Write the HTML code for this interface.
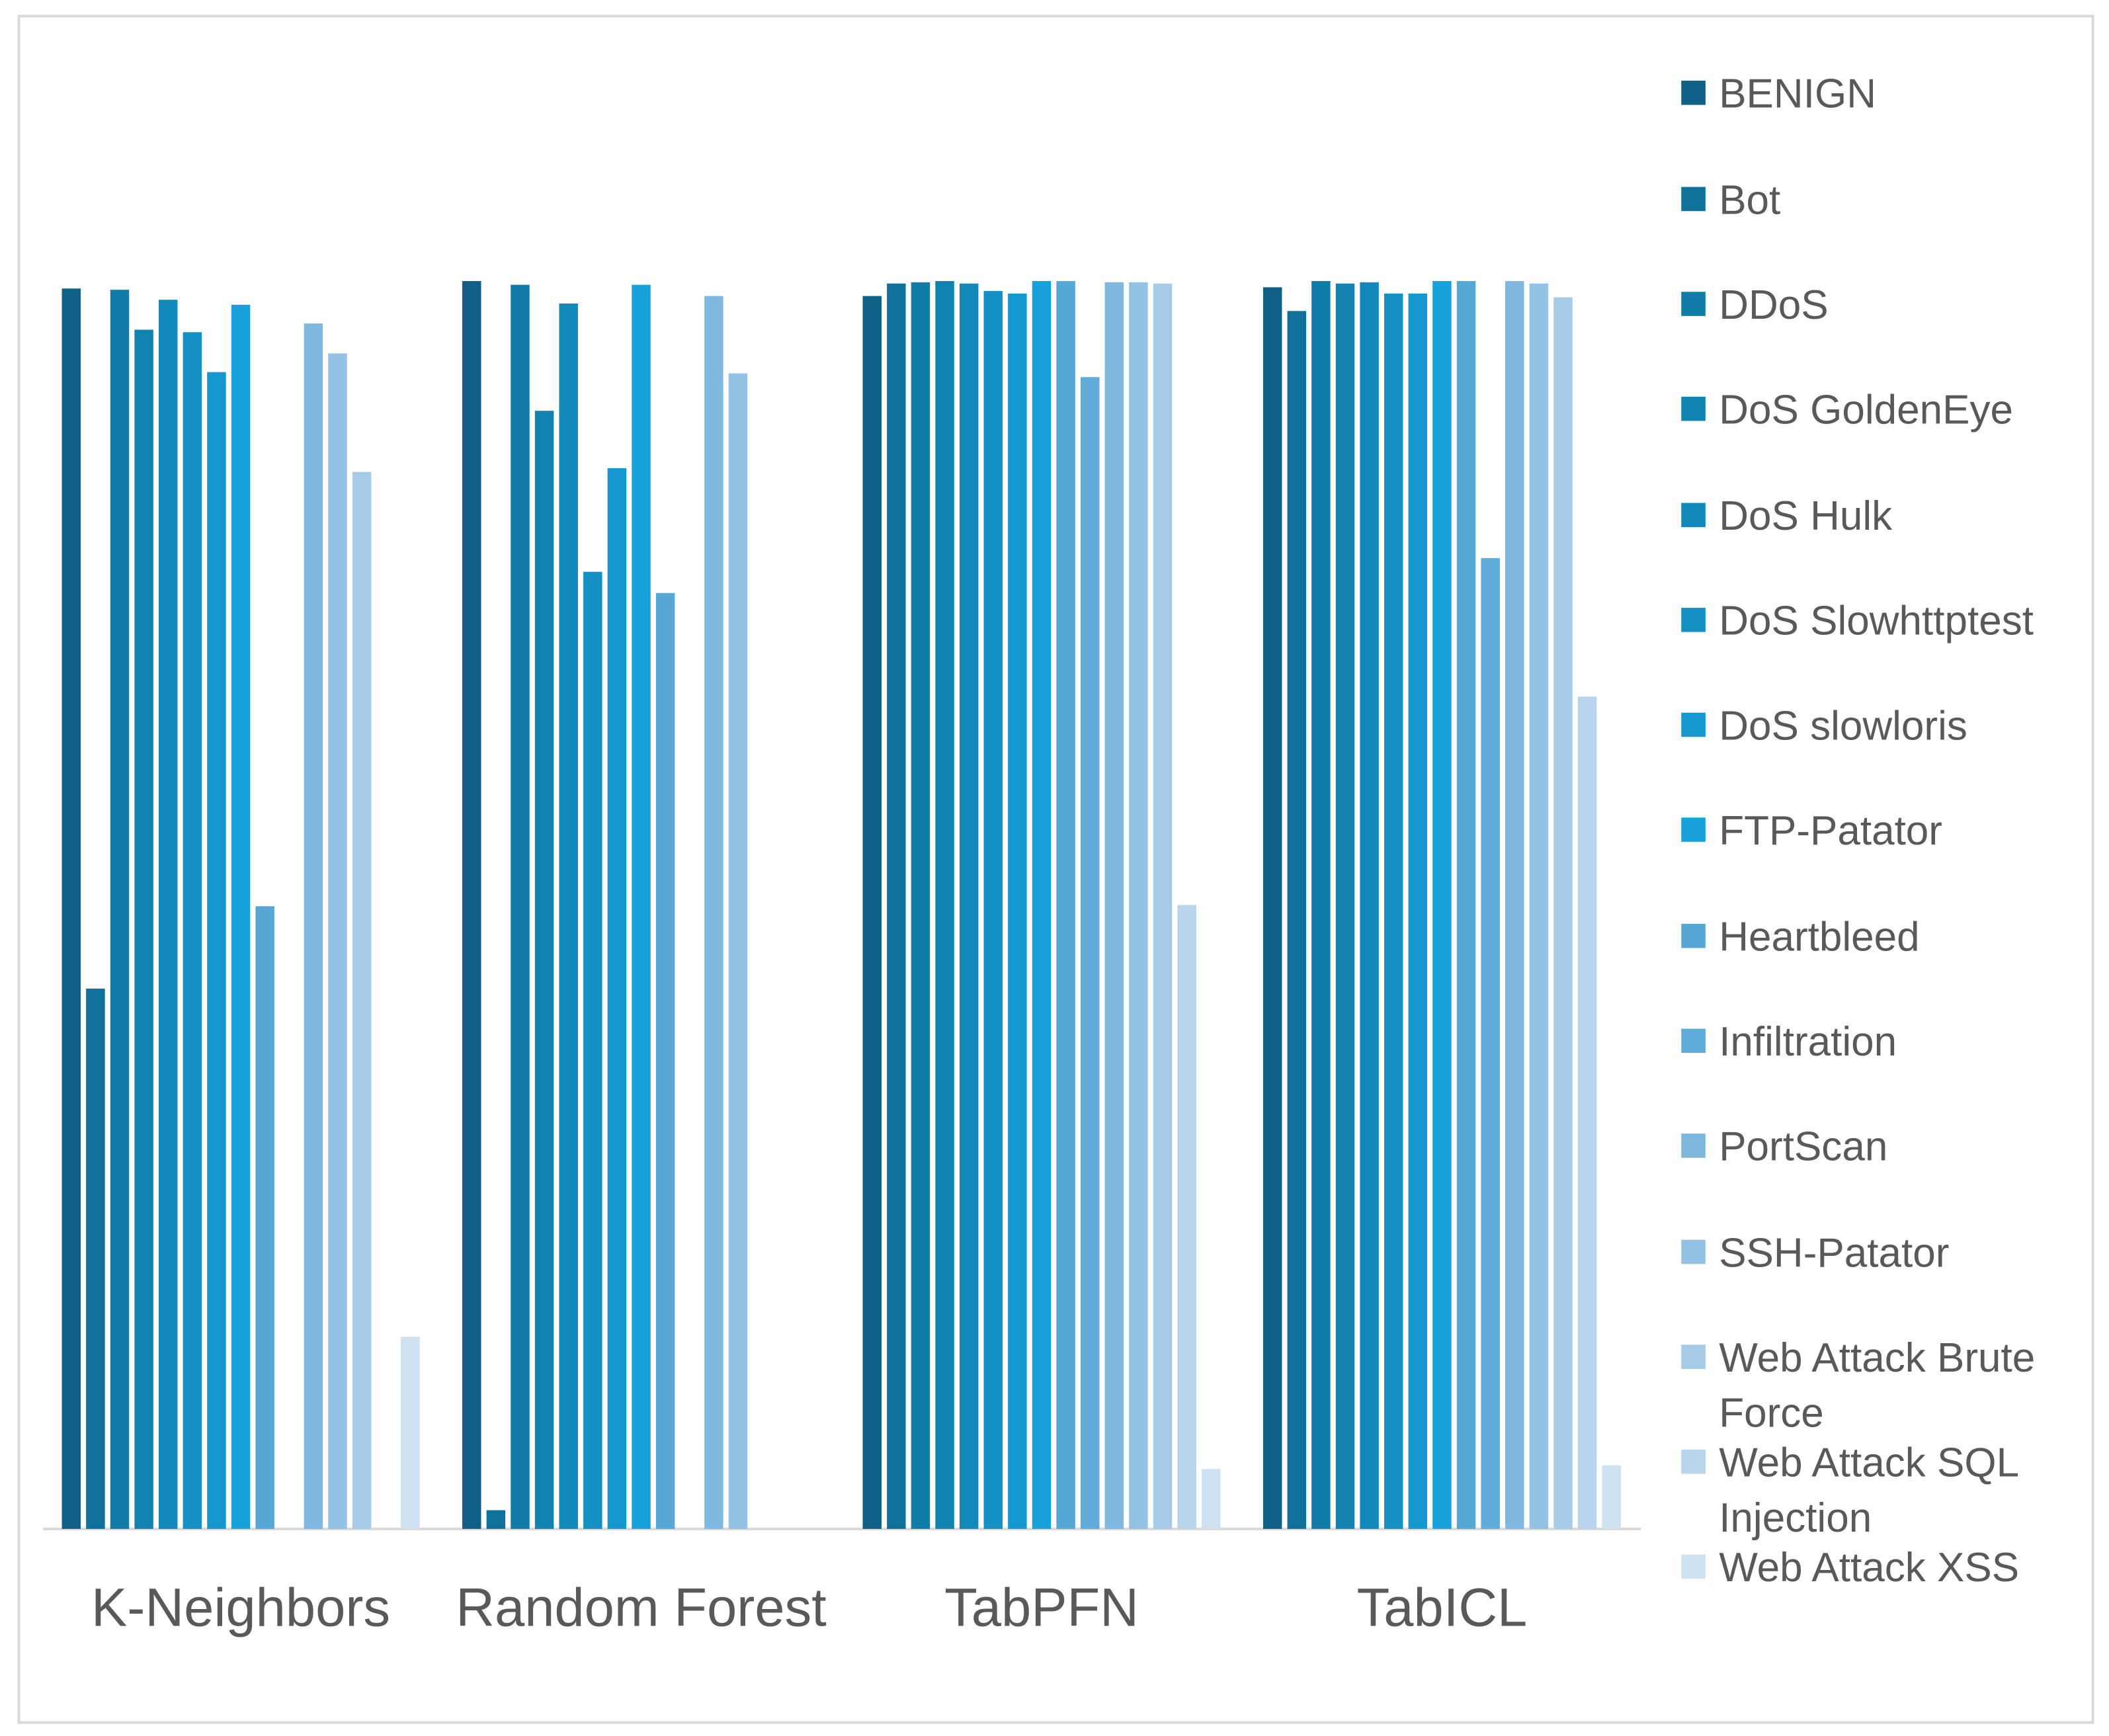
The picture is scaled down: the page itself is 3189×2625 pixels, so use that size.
<!DOCTYPE html>
<html><head><meta charset="utf-8"><style>
html,body{margin:0;padding:0;background:#fff}
svg{display:block}
text{font-family:"Liberation Sans",sans-serif;fill:#595959}
</style></head><body>
<svg id="chart" width="3189" height="2625" viewBox="0 0 1568 1291" preserveAspectRatio="none" xmlns="http://www.w3.org/2000/svg">
<rect x="14" y="12" width="1542" height="1269" fill="#fff" stroke="#d9d9d9" stroke-width="2"/>
<line x1="32" y1="1137" x2="1220" y2="1137" stroke="#d9d9d9" stroke-width="2"/>
<g id="bars"></g><g id="xlabels"></g><g id="legend"></g>
</svg>
<script>
const categories = ["K-Neighbors","Random Forest","TabPFN","TabICL"];
const seriesNames = ["BENIGN","Bot","DDoS","DoS GoldenEye","DoS Hulk","DoS Slowhttptest","DoS slowloris","FTP-Patator","Heartbleed","Infiltration","PortScan","SSH-Patator","Web Attack Brute Force","Web Attack SQL Injection","Web Attack XSS"];
const colors = ["#0f5f86","#10719b","#117ca8","#1282b0","#1389bb","#1490c4","#1597cf","#18a0da","#56a7d6","#5fabd9","#7fb8df","#94c2e4","#a6cbe8","#b8d5ec","#cde1f1"];
const knnValues = [0.994,0.433,0.993,0.961,0.985,0.959,0.927,0.981,0.499,0,0.966,0.942,0.847,0,0.154];
const rfValues  = [1.000,0.015,0.997,0.896,0.982,0.767,0.850,0.997,0.750,0,0.988,0.926,0,0,0];
const tabpfnValues = [0.988,0.998,0.999,1.000,0.998,0.992,0.990,1.000,1.000,0.923,0.999,0.999,0.998,0.500,0.048];
const tabiclValues = [0.995,0.976,1.000,0.998,0.999,0.990,0.990,1.000,1.000,0.778,1.000,0.998,0.987,0.667,0.051];
const allValues=[knnValues,rfValues,tabpfnValues,tabiclValues];
const NS="http://www.w3.org/2000/svg";
const baseY=1137, plotH=928, firstX=46, groupW=297.7, pitch=18, barW=14;
const yScale=v=>baseY-v*plotH;
const xScale=(g,s)=>firstX+g*groupW+s*pitch;
const bars=document.getElementById('bars');
allValues.forEach((vals,g)=>{vals.forEach((v,s)=>{if(v<=0)return;
 const r=document.createElementNS(NS,'rect');
 r.setAttribute('x',xScale(g,s));r.setAttribute('y',yScale(v));
 r.setAttribute('width',barW);r.setAttribute('height',baseY-yScale(v));
 r.setAttribute('fill',colors[s]);
 
 
 bars.appendChild(r);});});
const xl=document.getElementById('xlabels');
categories.forEach((c,g)=>{const t=document.createElementNS(NS,'text');
 t.setAttribute('x',xScale(g,7)+barW/2);t.setAttribute('y',1209);
 t.setAttribute('text-anchor','middle');t.setAttribute('font-size','40');
 t.textContent=c;
 
 
 xl.appendChild(t);});
const lg=document.getElementById('legend');
const legY=[69,148,226,304,383,461,539,617,696,774,852,931,1009,1087,1165];
seriesNames.forEach((n,i)=>{const g=document.createElementNS(NS,'g');
 
 
 const r=document.createElementNS(NS,'rect');
 r.setAttribute('x',1250);r.setAttribute('y',legY[i]-9);r.setAttribute('width',18);r.setAttribute('height',18);r.setAttribute('fill',colors[i]);
 g.appendChild(r);
 const t=document.createElementNS(NS,'text');
 t.setAttribute('x',1278);t.setAttribute('y',legY[i]+11);t.setAttribute('font-size','30.5');
 let parts=n;
 if(n==="Web Attack Brute Force")parts=["Web Attack Brute","Force"];
 else if(n==="Web Attack SQL Injection")parts=["Web Attack SQL","Injection"];
 if(Array.isArray(parts)){parts.forEach((p,k)=>{const ts=document.createElementNS(NS,'tspan');ts.setAttribute('x',1278);ts.setAttribute('dy',k?41:0);ts.textContent=p;t.appendChild(ts);});}
 else t.textContent=parts;
 g.appendChild(t);lg.appendChild(g);});
</script>
</body></html>
